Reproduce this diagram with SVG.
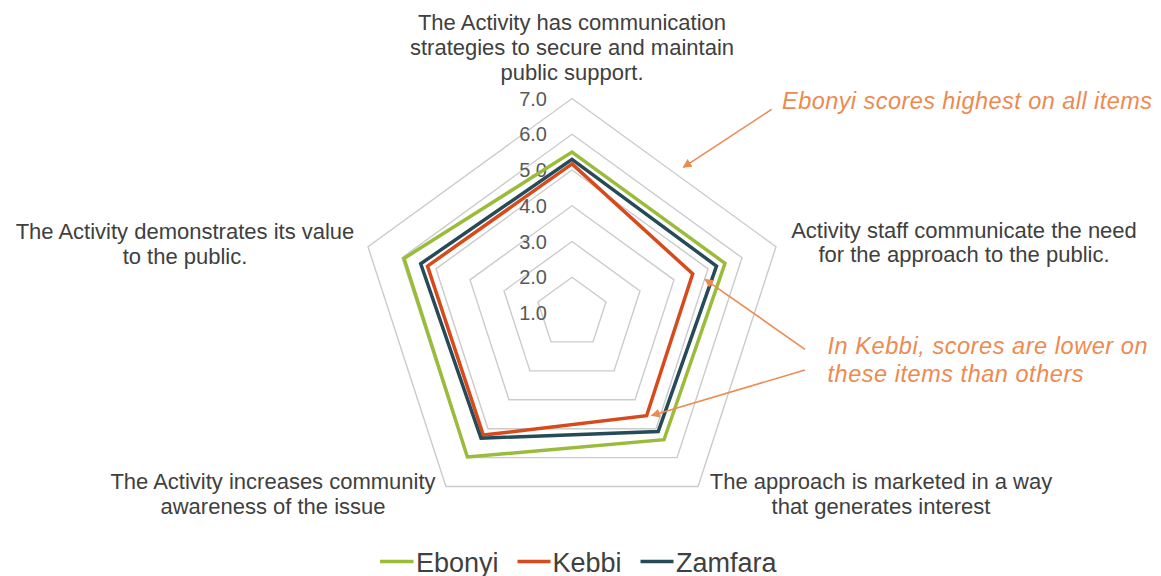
<svg xmlns="http://www.w3.org/2000/svg" width="1161" height="576" viewBox="0 0 1161 576">
  <style>
    .grid { fill: none; stroke: #cbcbcb; stroke-width: 1.4; }
    .series { fill: none; stroke-width: 3.5; stroke-linejoin: miter; }
    .ebonyi { stroke: #9bbb3b; }
    .kebbi { stroke: #d64a1c; }
    .zamfara { stroke: #264b58; }
    .axis-label { font-family: "Liberation Sans", Arial, sans-serif; font-size: 22px; fill: #404040; text-anchor: middle; }
    .tick { font-family: "Liberation Sans", Arial, sans-serif; font-size: 20px; fill: #595959; text-anchor: end; }
    .note { font-family: "Liberation Sans", Arial, sans-serif; font-size: 23.5px; font-style: italic; fill: #ed8a50; }
    .pointer { stroke: #ed8a50; stroke-width: 1.6; fill: none; marker-end: url(#head); }
    .legend-text { font-family: "Liberation Sans", Arial, sans-serif; font-size: 27px; fill: #404040; }
  </style>
  <defs>
    <marker id="head" viewBox="0 0 10 10" refX="9" refY="5" markerWidth="9" markerHeight="9" markerUnits="userSpaceOnUse" orient="auto">
      <path d="M0,0 L10,5 L0,10 z" fill="#ed8a50"/>
    </marker>
  </defs>

  <!-- radar grid: levels 2.0 to 7.0 around centre (572,313) -->
  <g id="grid">
    <polygon class="grid" points="572,277.25 606.0,301.95 593.01,341.92 550.99,341.92 538.0,301.95"/>
    <polygon class="grid" points="572,241.5 640.0,290.9 614.03,370.85 529.97,370.85 504.0,290.9"/>
    <polygon class="grid" points="572,205.75 674.0,279.86 635.04,399.77 508.96,399.77 470.0,279.86"/>
    <polygon class="grid" points="572,170 708.0,268.81 656.05,428.69 487.95,428.69 436.0,268.81"/>
    <polygon class="grid" points="572,134.25 742.0,257.76 677.07,457.61 466.93,457.61 402.0,257.76"/>
    <polygon class="grid" points="572,98.5 776.0,246.72 698.08,486.54 445.92,486.54 368.0,246.72"/>
  </g>

  <!-- scale values -->
  <g id="ticks">
    <text class="tick" x="547" y="320">1.0</text>
    <text class="tick" x="547" y="284">2.0</text>
    <text class="tick" x="547" y="248.5">3.0</text>
    <text class="tick" x="547" y="212.5">4.0</text>
    <text class="tick" x="547" y="177">5.0</text>
    <text class="tick" x="547" y="141">6.0</text>
    <text class="tick" x="547" y="105.5">7.0</text>
  </g>

  <!-- data series -->
  <g id="series">
    <polygon id="series-ebonyi" class="series ebonyi" points="572,152.1 725.0,263.3 664.0,439.7 467.4,457.0 404.0,258.4"/>
    <polygon id="series-kebbi" class="series kebbi" points="572,163.9 692.7,273.8 646.6,415.7 483.3,435.1 427.5,266.1"/>
    <polygon id="series-zamfara" class="series zamfara" points="572,159.3 716.5,266.1 658.2,431.6 481.0,438.2 420.7,263.8"/>
  </g>

  <!-- category labels -->
  <g id="label-top">
    <text class="axis-label" x="572" y="30">The Activity has communication</text>
    <text class="axis-label" x="572" y="55">strategies to secure and maintain</text>
    <text class="axis-label" x="572" y="80">public support.</text>
  </g>
  <g id="label-right">
    <text class="axis-label" x="964" y="237.5">Activity staff communicate the need</text>
    <text class="axis-label" x="964" y="262">for the approach to the public.</text>
  </g>
  <g id="label-bottom-right">
    <text class="axis-label" x="881" y="488.5">The approach is marketed in a way</text>
    <text class="axis-label" x="881" y="513.5">that generates interest</text>
  </g>
  <g id="label-bottom-left">
    <text class="axis-label" x="273" y="488.5">The Activity increases community</text>
    <text class="axis-label" x="273" y="513.5">awareness of the issue</text>
  </g>
  <g id="label-left">
    <text class="axis-label" x="185" y="239">The Activity demonstrates its value</text>
    <text class="axis-label" x="185" y="263.5">to the public.</text>
  </g>

  <!-- callouts -->
  <g id="note-ebonyi">
    <text class="note" x="782" y="108.5" textLength="370" lengthAdjust="spacing">Ebonyi scores highest on all items</text>
  </g>
  <g id="note-kebbi">
    <text class="note" x="827.5" y="353.5" textLength="320" lengthAdjust="spacing">In Kebbi, scores are lower on</text>
    <text class="note" x="827.5" y="381.5" textLength="256" lengthAdjust="spacing">these items than others</text>
  </g>
  <g id="connectors">
    <line class="pointer" x1="771.7" y1="109.3" x2="683.3" y2="167.3"/>
    <line class="pointer" x1="805" y1="349.3" x2="705" y2="279.3"/>
    <line class="pointer" x1="805" y1="370" x2="651.7" y2="415.5"/>
  </g>

  <!-- legend -->
  <g id="legend">
    <line x1="380" y1="561.5" x2="413.5" y2="561.5" stroke="#9bbb3b" stroke-width="3.5"/>
    <text class="legend-text" x="416" y="571.5">Ebonyi</text>
    <line x1="517.5" y1="561.5" x2="550.5" y2="561.5" stroke="#d64a1c" stroke-width="3.5"/>
    <text class="legend-text" x="552.5" y="571.5">Kebbi</text>
    <line x1="640.5" y1="561.5" x2="673.5" y2="561.5" stroke="#264b58" stroke-width="3.5"/>
    <text class="legend-text" x="676" y="571.5">Zamfara</text>
  </g>
</svg>
